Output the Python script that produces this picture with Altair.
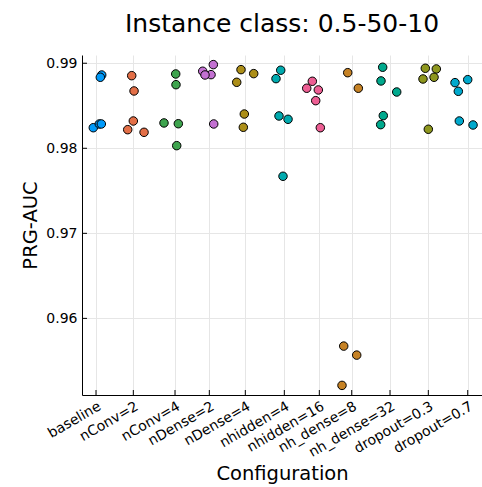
import altair as alt
import pandas as pd

categories = ["baseline", "nConv=2", "nConv=4", "nDense=2", "nDense=4", "nhidden=4",
              "nhidden=16", "nh_dense=8", "nh_dense=32", "dropout=0.3", "dropout=0.7"]
tick_pos = [0.35, 1.283, 2.325, 3.183, 4.083, 5.058, 5.933, 6.743, 7.7, 8.658, 9.643]
colors = ["#009AFA", "#E36F47", "#3EA44E", "#C371D2", "#AC8E18", "#00AAAE",
          "#ED5E93", "#C68225", "#00A98D", "#8E971E", "#00A9CD"]

values = {
    "baseline":    [0.98862, 0.98835, 0.98242, 0.98286, 0.98286],
    "nConv=2":     [0.98854, 0.98674, 0.98321, 0.98219, 0.98188],
    "nConv=4":     [0.98874, 0.98748, 0.98298, 0.98289, 0.98031],
    "nDense=2":    [0.98906, 0.98984, 0.98866, 0.98862, 0.98286],
    "nDense=4":    [0.98925, 0.98878, 0.98776, 0.98403, 0.98247],
    "nhidden=4":   [0.98918, 0.98819, 0.98380, 0.98341, 0.97671],
    "nhidden=16":  [0.98788, 0.98706, 0.98686, 0.98560, 0.98242],
    "nh_dense=8":  [0.98889, 0.98706, 0.95674, 0.95568, 0.95212],
    "nh_dense=32": [0.98953, 0.98792, 0.98662, 0.98384, 0.98278],
    "dropout=0.3": [0.98941, 0.98933, 0.98815, 0.98835, 0.98224],
    "dropout=0.7": [0.98772, 0.98807, 0.98670, 0.98321, 0.98274],
}
jitter = {
    "baseline":    [0.143, 0.108, -0.068, 0.083, 0.133],
    "nConv=2":     [-0.040, 0.018, 0.000, -0.140, 0.268],
    "nConv=4":     [0.018, 0.025, -0.275, 0.083, 0.043],
    "nDense=2":    [-0.165, 0.100, 0.043, -0.108, 0.110],
    "nDense=4":    [-0.108, 0.210, -0.215, -0.025, -0.050],
    "nhidden=4":   [-0.090, -0.208, -0.133, 0.093, -0.033],
    "nhidden=16":  [-0.175, -0.315, -0.025, -0.090, 0.025],
    "nh_dense=8":  [-0.100, 0.165, -0.200, 0.125, -0.243],
    "nh_dense=32": [-0.183, -0.225, 0.168, -0.168, -0.233],
    "dropout=0.3": [-0.075, 0.200, -0.133, 0.143, 0.000],
    "dropout=0.7": [-0.318, 0.000, -0.235, -0.210, 0.133],
}
y_ticks = [0.96, 0.97, 0.98, 0.99]

rows = []
for i, c in enumerate(categories):
    for v, j in zip(values[c], jitter[c]):
        rows.append({"config": c, "order": i, "x": tick_pos[i] + j, "auc": v})
df = pd.DataFrame(rows)

label_expr = "".join(
    f"datum.value == {p} ? '{c}' : " for p, c in zip(tick_pos, categories)
) + "''"

FONT = "DejaVu Sans"
W, H = 400, 340
xscale = alt.Scale(domain=[0, 10], nice=False, zero=False)
yscale = alt.Scale(domain=[0.95099, 0.99097], nice=False, zero=False)

x_axis = alt.Axis(values=tick_pos, labelExpr=label_expr, title="Configuration",
                  labelAngle=-30, labelAlign="right", labelBaseline="top",
                  labelFontSize=14, labelFont=FONT, labelColor="black",
                  labelPadding=4, tickSize=0, domainColor="black",
                  gridColor="#e6e6e6", titleFontSize=19.5, titleFont=FONT,
                  titleFontWeight="normal", titleColor="black",
                  titleY=84, titleBaseline="alphabetic", labelOverlap=False,
                  labelBound=False, labelFlush=False)
y_axis = alt.Axis(values=y_ticks, format=".2f", title="PRG-AUC",
                  labelFontSize=14, labelFont=FONT, labelColor="black",
                  labelPadding=5, tickSize=0, domainColor="black",
                  gridColor="#e6e6e6", titleFontSize=19.5, titleFont=FONT,
                  titleFontWeight="normal", titleColor="black",
                  titleX=-46, titleBaseline="alphabetic", labelFlush=False,
                  labelOverlap=False)

points = alt.Chart(df).mark_point(
    shape="circle", filled=True, size=72, stroke="black", strokeWidth=1, opacity=1
).encode(
    x=alt.X("x:Q", scale=xscale, axis=x_axis),
    y=alt.Y("auc:Q", scale=yscale, axis=y_axis),
    color=alt.Color("config:N", scale=alt.Scale(domain=categories, range=colors), legend=None),
    order="order:Q",
)

ytick_df = pd.DataFrame({"v": y_ticks})
yticks = alt.Chart(ytick_df).mark_rule(color="black", strokeWidth=1).encode(
    y=alt.Y("v:Q", scale=yscale, axis=y_axis), x=alt.value(0), x2=alt.value(5)
)
xtick_df = pd.DataFrame({"p": tick_pos})
xticks = alt.Chart(xtick_df).mark_rule(color="black", strokeWidth=1).encode(
    x=alt.X("p:Q", scale=xscale, axis=x_axis), y=alt.value(H), y2=alt.value(H - 5)
)

chart = alt.layer(points, yticks, xticks).properties(
    width=W, height=H,
    title=alt.TitleParams("Instance class: 0.5-50-10", fontSize=25, font=FONT,
                          fontWeight="normal", color="black", anchor="middle", offset=18),
    autosize=alt.AutoSizeParams(type="none"),
    padding={"left": 82, "top": 55, "right": 0, "bottom": 92},
).configure_view(stroke=None).configure_axis(domainWidth=1, gridWidth=1, labelOverlap=False)

chart.save("out.html", embed_options={"renderer": "svg", "actions": False})
